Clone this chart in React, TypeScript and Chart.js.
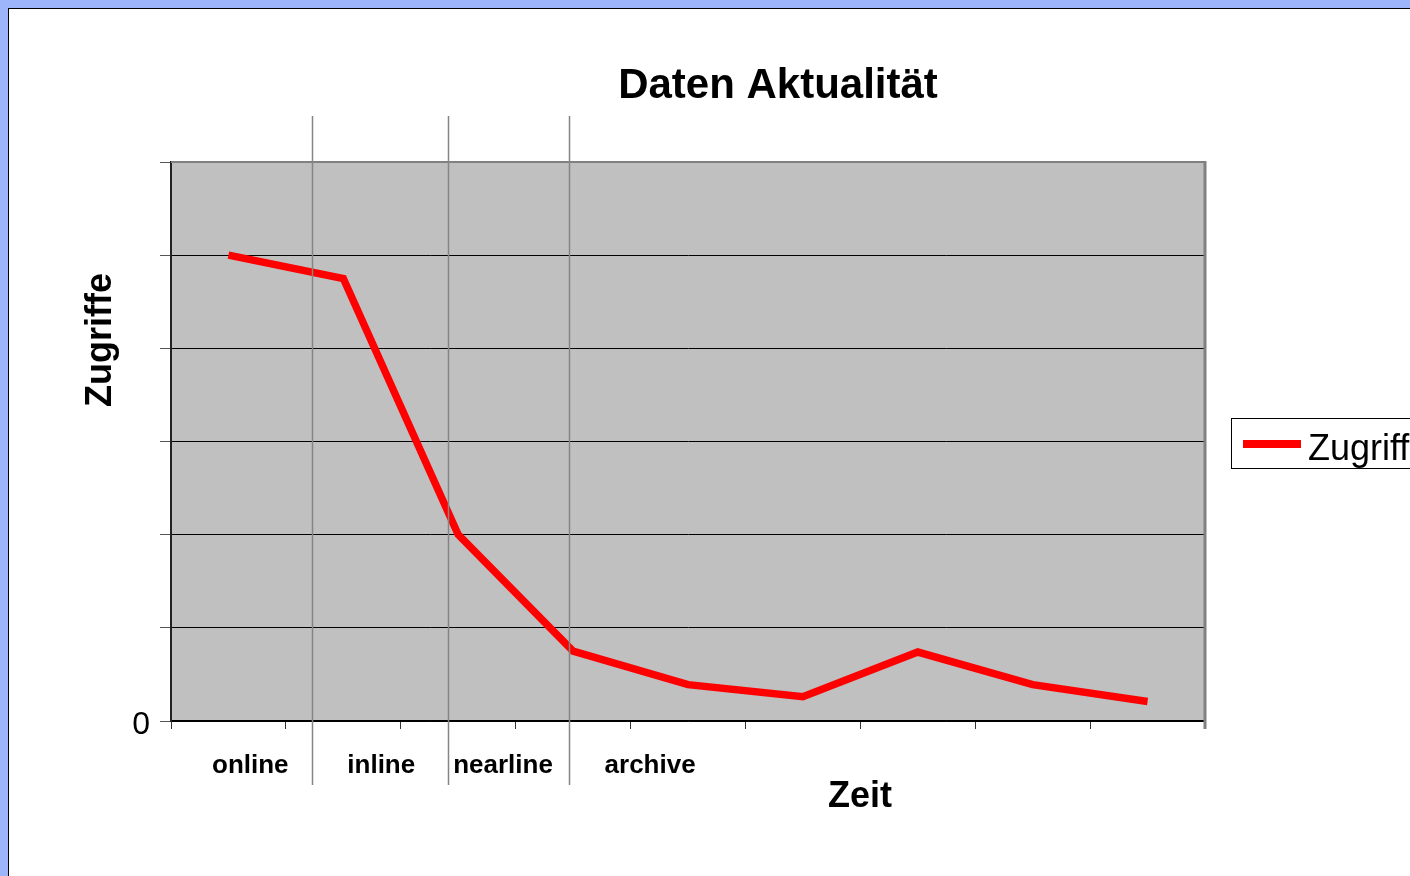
import { useEffect, useRef } from 'react';
import { Chart, registerables } from 'chart.js';
Chart.register(...registerables);

// ---- data ----
const categories = ['1', '2', '3', '4', '5', '6', '7', '8', '9'];
const zugriffe = [5.0, 4.75, 2.0, 0.75, 0.39, 0.26, 0.74, 0.39, 0.21];
const yMin = 0;
const yMax = 6;
const yStep = 1;
const phaseLabels = ['online', 'inline', 'nearline', 'archive'];
const phaseLabelAt = [0.19, 1.33, 2.39, 3.67]; // in category units
const phaseDividersAt = [0.727, 1.911, 2.964]; // in category units
const chartTitle = 'Daten Aktualität';
const xTitle = 'Zeit';
const yTitle = 'Zugriffe';
const seriesLabel = 'Zugriffe';

const FONT = '"Liberation Sans", Arial, Helvetica, sans-serif';
const BLUE = '#9db5fb';

export default function App() {
  const ref = useRef<HTMLCanvasElement>(null);

  useEffect(() => {
    const decor = {
      id: 'decor',
      beforeDraw(chart: any) {
        const { ctx, chartArea: a } = chart;
        ctx.save();
        ctx.fillStyle = '#c0c0c0';
        ctx.fillRect(a.left, a.top, a.right - a.left, a.bottom - a.top);
        ctx.restore();
      },
      afterDraw(chart: any) {
        const { ctx, chartArea: a } = chart;
        const xs = chart.scales.x;
        ctx.save();
        // plot frame (top / right)
        ctx.strokeStyle = '#808080';
        ctx.lineWidth = 2;
        ctx.beginPath();
        ctx.moveTo(a.left, a.top);
        ctx.lineTo(a.right, a.top);
        ctx.stroke();
        ctx.lineWidth = 3;
        ctx.beginPath();
        ctx.moveTo(a.right, a.top - 1);
        ctx.lineTo(a.right, a.bottom + 8);
        ctx.stroke();

        // phase dividers
        ctx.strokeStyle = '#858585';
        ctx.lineWidth = 1.5;
        phaseDividersAt.forEach((v) => {
          const x = Math.round(xs.getPixelForValue(v)) + 0.5;
          ctx.beginPath();
          ctx.moveTo(x, a.top - 46);
          ctx.lineTo(x, a.bottom + 64);
          ctx.stroke();
        });

        // phase labels
        ctx.fillStyle = '#000';
        ctx.font = `bold 26px ${FONT}`;
        ctx.textAlign = 'center';
        ctx.textBaseline = 'alphabetic';
        phaseLabels.forEach((t, i) => {
          ctx.fillText(t, xs.getPixelForValue(phaseLabelAt[i]), a.bottom + 52);
        });

        // chart title
        ctx.font = `bold 42px ${FONT}`;
        ctx.fillText(chartTitle, 769, 89);

        // x title
        ctx.font = `bold 36px ${FONT}`;
        ctx.fillText(xTitle, 851, 798);

        // y title
        ctx.save();
        ctx.translate(102, 331);
        ctx.rotate(-Math.PI / 2);
        ctx.font = `bold 36px ${FONT}`;
        ctx.fillText(yTitle, 0, 0);
        ctx.restore();

        // legend
        const ds = chart.data.datasets[0];
        ctx.strokeStyle = '#000';
        ctx.lineWidth = 1;
        ctx.strokeRect(1222.5, 409.5, 300, 50);
        ctx.strokeStyle = ds.borderColor;
        ctx.lineWidth = 8;
        ctx.beginPath();
        ctx.moveTo(1234, 435);
        ctx.lineTo(1292, 435);
        ctx.stroke();
        ctx.fillStyle = '#000';
        ctx.font = `36px ${FONT}`;
        ctx.textAlign = 'left';
        ctx.fillText(ds.label, 1299, 451);
        ctx.restore();
      },
    };

    const chart = new Chart(ref.current!, {
      type: 'line',
      data: {
        labels: categories,
        datasets: [
          {
            label: seriesLabel,
            data: zugriffe,
            borderColor: '#ff0000',
            borderWidth: 7.5,
            pointRadius: 0,
            tension: 0,
            fill: false,
          },
        ],
      },
      options: {
        responsive: false,
        animation: false,
        layout: { padding: { left: 0, top: 153, right: 205, bottom: 0 } },
        plugins: {
          legend: { display: false },
          title: { display: false },
          tooltip: { enabled: false },
        },
        scales: {
          x: {
            type: 'category',
            offset: true,
            grid: {
              offset: true,
              drawOnChartArea: false,
              drawTicks: true,
              tickLength: 8,
              color: '#333',
              lineWidth: 1,
            },
            border: { color: '#000', width: 1.5 },
            ticks: { display: false },
            afterFit(scale: any) {
              scale.height = 155;
            },
          },
          y: {
            min: yMin,
            max: yMax,
            grid: {
              color: '#000',
              lineWidth: 1,
              tickLength: 11,
              tickColor: '#555',
            },
            border: { color: '#222', width: 2 },
            ticks: {
              stepSize: yStep,
              padding: 10,
              labelOffset: 4,
              color: '#000',
              font: { family: FONT, size: 32 },
              callback: (v: any) => (Number(v) === 0 ? '0' : ''),
            },
            afterFit(scale: any) {
              scale.width = 162;
            },
          },
        },
      },
      plugins: [decor],
    });
    return () => chart.destroy();
  }, []);

  return (
    <div
      style={{
        position: 'fixed',
        left: 0,
        top: 0,
        width: 1410,
        height: 876,
        background: BLUE,
        overflow: 'hidden',
      }}
    >
      <div
        style={{
          position: 'absolute',
          left: 8,
          top: 8,
          width: 1402,
          height: 868,
          borderTop: '1px solid #000',
          borderLeft: '1px solid #000',
          background: '#fff',
          boxSizing: 'border-box',
          overflow: 'hidden',
        }}
      >
        <canvas
          ref={ref}
          width={1401}
          height={867}
          style={{ display: 'block', width: 1401, height: 867 }}
        />
      </div>
    </div>
  );
}
